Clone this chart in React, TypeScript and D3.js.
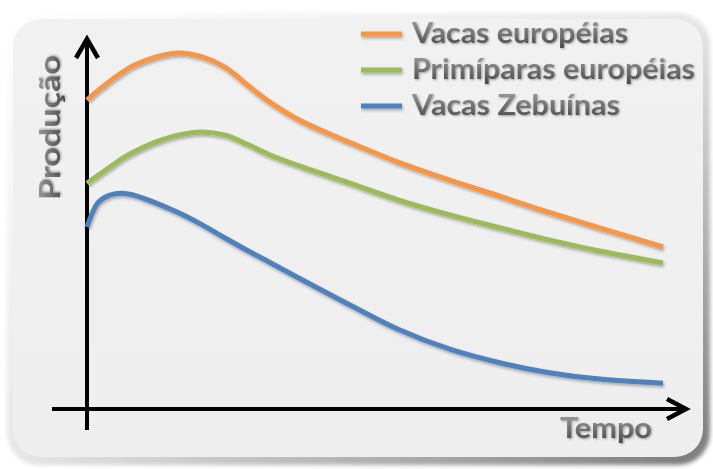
import React from "react";
import * as d3 from "d3";

const W = 713;
const H = 469;

const times = [0, 1, 2, 4, 6, 8, 12, 16, 20, 24, 28, 32, 37, 46, 54, 63, 72, 80, 89, 100];
const vacasEuropeias = [83.7, 85.1, 86.4, 88.9, 91.1, 93.0, 95.4, 96.5, 95.4, 92.6, 87.6, 82.9, 78.2, 72.0, 66.9, 62.0, 57.5, 53.4, 49.1, 43.9];
const primiparasEuropeias = [61.2, 62.3, 63.4, 65.6, 67.8, 69.6, 72.4, 74.3, 75.1, 74.2, 71.6, 68.7, 65.8, 61.0, 56.7, 52.6, 49.0, 45.9, 42.8, 39.6];
const vacasZebuinas = [49.3, 53.4, 56.1, 58.0, 58.5, 58.0, 55.8, 53.1, 49.9, 46.3, 42.8, 39.5, 35.3, 27.9, 21.6, 16.2, 12.4, 9.9, 8.1, 7.0];

const seriesNames = ["Vacas européias", "Primíparas européias", "Vacas Zebuínas"];
const seriesColors = ["#F79646", "#9BBB59", "#4F81BD"];
const seriesValues = [vacasEuropeias, primiparasEuropeias, vacasZebuinas];
const legendWidths = [216, 283, 208];

const yLabel = "Produção";
const xLabel = "Tempo";

export default function App() {
  const x = d3.scaleLinear().domain([0, 100]).range([87, 663]);
  const y = d3.scaleLinear().domain([0, 100]).range([409, 40]);
  const line = d3
    .line<[number, number]>()
    .x((d) => x(d[0]))
    .y((d) => y(d[1]))
    .curve(d3.curveCatmullRom.alpha(0.5));

  const x0 = x(0);
  const y0 = y(0);
  const font = "Lato, 'Open Sans', 'DejaVu Sans', sans-serif";

  return (
    <svg
      width={W}
      height={H}
      style={{ position: "fixed", left: 0, top: 0, display: "block" }}
    >
      <defs>
        <linearGradient id="bevel" x1="0" y1="0" x2="1" y2="1">
          <stop offset="0" stopColor="#ffffff" />
          <stop offset="0.5" stopColor="#e6e6e6" />
          <stop offset="1" stopColor="#7a7a7a" />
        </linearGradient>
        <linearGradient id="bg" x1="0" y1="0" x2="0" y2="1">
          <stop offset="0" stopColor="#f1f1f1" />
          <stop offset="1" stopColor="#eeeeee" />
        </linearGradient>
        <linearGradient id="txt" x1="0" y1="0" x2="0" y2="1">
          <stop offset="0" stopColor="#a8a8a8" />
          <stop offset="0.45" stopColor="#7c7c7c" />
          <stop offset="1" stopColor="#454545" />
        </linearGradient>
        <filter id="shadow" filterUnits="userSpaceOnUse" x="0" y="0" width={W} height={H}>
          <feDropShadow dx="1" dy="2" stdDeviation="1.5" floodColor="#000" floodOpacity="0.3" />
        </filter>
        <filter id="tshadow" x="-10%" y="-20%" width="120%" height="150%">
          <feDropShadow dx="1" dy="1" stdDeviation="0.8" floodColor="#000" floodOpacity="0.35" />
        </filter>
        <filter id="soft" x="-5%" y="-5%" width="110%" height="110%">
          <feGaussianBlur stdDeviation="2" />
        </filter>
      </defs>

      <rect x={0} y={0} width={W} height={H} fill="#ffffff" />
      <rect x={7} y={13} width={703} height={452} rx={32} fill="url(#bevel)" filter="url(#soft)" />
      <rect x={13} y={19} width={690} height={438} rx={28} fill="url(#bg)" />

      {/* axes */}
      <line x1={x0} y1={430} x2={x0} y2={40} stroke="#000" strokeWidth={4} />
      <path d={`M${x0 - 11},${58} L${x0},${39} L${x0 + 11},${58}`} fill="none" stroke="#000" strokeWidth={4.5} strokeLinejoin="miter" />
      <line x1={52} y1={y0} x2={685} y2={y0} stroke="#000" strokeWidth={4} />
      <path d={`M${667},${y0 - 10} L${686},${y0} L${667},${y0 + 10}`} fill="none" stroke="#000" strokeWidth={4.5} strokeLinejoin="miter" />

      {/* series */}
      {seriesValues.map((vals, i) => (
        <path
          key={seriesNames[i]}
          d={line(times.map((t, j) => [t, vals[j]] as [number, number])) || ""}
          fill="none"
          stroke={seriesColors[i]}
          strokeWidth={5}
          strokeLinecap="butt"
          filter="url(#shadow)"
        />
      ))}

      {/* legend */}
      {seriesNames.map((name, i) => (
        <g key={name}>
          <rect
            x={361}
            y={31.5 + i * 36}
            width={41}
            height={5}
            fill={seriesColors[i]}
            filter="url(#shadow)"
          />
          <text
            x={412}
            y={43 + i * 36}
            fontFamily={font}
            fontWeight={700}
            fontSize={28}
            fill="url(#txt)"
            textLength={legendWidths[i]}
            lengthAdjust="spacingAndGlyphs"
            filter="url(#tshadow)"
          >
            {name}
          </text>
        </g>
      ))}

      {/* axis labels */}
      <text
        transform={`translate(60,200) rotate(-90)`}
        fontFamily={font}
        fontWeight={700}
        fontSize={28}
        fill="url(#txt)"
        textLength={145}
        lengthAdjust="spacingAndGlyphs"
        filter="url(#tshadow)"
      >
        {yLabel}
      </text>
      <text
        x={560}
        y={438}
        fontFamily={font}
        fontWeight={700}
        fontSize={28}
        fill="url(#txt)"
        textLength={92}
        lengthAdjust="spacingAndGlyphs"
        filter="url(#tshadow)"
      >
        {xLabel}
      </text>
    </svg>
  );
}
